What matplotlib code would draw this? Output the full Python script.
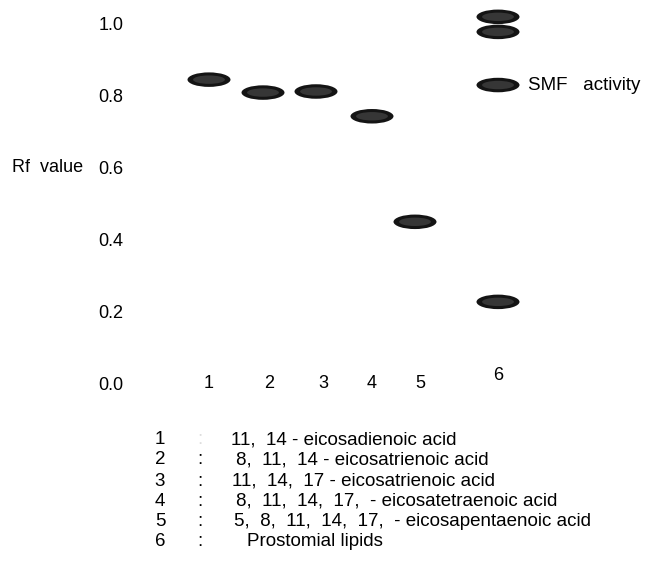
import matplotlib
matplotlib.use("Agg")
import matplotlib.pyplot as plt
from matplotlib.patches import Ellipse
from matplotlib.transforms import blended_transform_factory

plt.rcParams['font.family'] = ['Liberation Sans', 'DejaVu Sans']

# ---- data ----
lanes = ['1', '2', '3', '4', '5', '6']
spot_lane = [0, 1, 2, 3, 4, 5, 5, 5, 5]
spot_rf = [0.845, 0.809, 0.812, 0.743, 0.449, 1.02, 0.978, 0.830, 0.226]
y_ticks = [0.0, 0.2, 0.4, 0.6, 0.8, 1.0]
y_tick_labels = ['0.0', '0.2', '0.4', '0.6', '0.8', '1.0']
y_title = 'Rf  value'
smf_label = 'SMF   activity'
legend_nums = ['1', '2', '3', '4', '5', '6']
legend_names = ['11,  14 - eicosadienoic acid',
                '8,  11,  14 - eicosatrienoic acid',
                '11,  14,  17 - eicosatrienoic acid',
                '8,  11,  14,  17,  - eicosatetraenoic acid',
                '5,  8,  11,  14,  17,  - eicosapentaenoic acid',
                'Prostomial lipids']

# ---- layout (pixel-based) ----
W, H = 645, 566
spot_x = [209, 263, 316, 372, 415, 498]
label_x = [209, 269, 323, 372, 420, 498]
label_dy = [0, 0, 0, 0, 0, 7]
y0_px, y1_px = 383, 24           # pixel rows of Rf 0.0 and 1.0
ppu = (y0_px - y1_px)            # pixels per Rf unit
ax_left = 129
FS = 13

fig = plt.figure(figsize=(W / 100, H / 100), dpi=100)
ax = fig.add_axes([ax_left / W, 0, 1 - ax_left / W, 1])
ax.set_xlim(ax_left, W)
ax.set_ylim((y0_px - H) / ppu, y0_px / ppu)
for s in ax.spines.values():
    s.set_visible(False)
ax.set_xticks([])
ax.set_yticks(y_ticks)
ax.set_yticklabels(y_tick_labels, fontsize=FS)
ax.tick_params(axis='y', length=0, pad=4)

# y title on the 0.6 line
ax.text(12 / W, 0.6, y_title,
        transform=blended_transform_factory(fig.transFigure, ax.transData),
        ha='left', va='center', fontsize=FS)

# lane labels on the origin line
for x, lab, dy in zip(label_x, lanes, label_dy):
    ax.text(x, 0.0 + dy / ppu, lab, ha='center', va='center', fontsize=FS)

# spots
sw, sh = 43, 14.5 / ppu
for li, rf in zip(spot_lane, spot_rf):
    x = spot_x[li]
    ax.add_patch(Ellipse((x, rf), sw, sh, facecolor='#141414',
                         edgecolor='none', zorder=3))
    ax.add_patch(Ellipse((x, rf), sw * 0.74, sh * 0.58, facecolor='#363636',
                         edgecolor='none', zorder=4))

ax.text(spot_x[5] + 30, spot_rf[7], smf_label, ha='left', va='center',
        fontsize=13.5)

# legend below
LFS = 13.5
row_y = [440, 460, 481, 501, 521, 541]
text_x = [231, 236, 232, 236, 234, 247]
for i, (n, name) in enumerate(zip(legend_nums, legend_names)):
    yf = 1 - row_y[i] / H
    fig.text(160 / W, yf, n, ha='center', va='center', fontsize=LFS)
    fig.text(200 / W, yf, ':', ha='center', va='center', fontsize=LFS,
             color='#dddddd' if i == 0 else 'black')
    fig.text(text_x[i] / W, yf, name, ha='left', va='center', fontsize=LFS)

fig.savefig('out.png', dpi=100, facecolor='white')
